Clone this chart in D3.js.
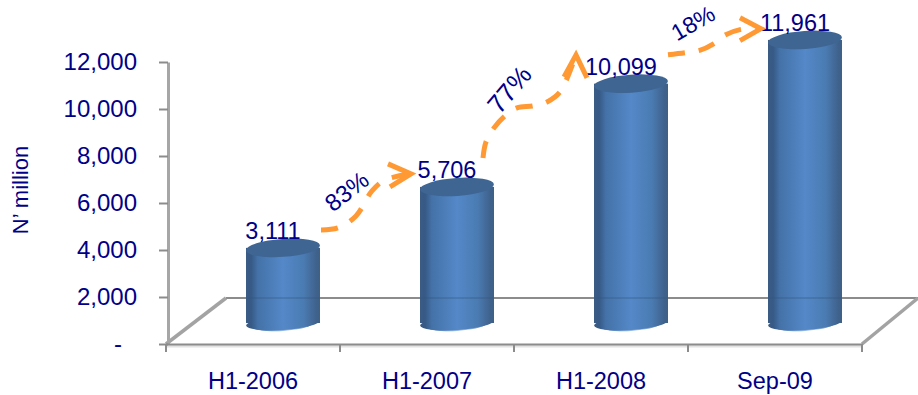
<!DOCTYPE html>
<html>
<head>
<meta charset="utf-8">
<script src="https://cdn.jsdelivr.net/npm/d3@7"></script>
<style>
  html, body { margin: 0; padding: 0; background: #fff; }
  svg { display: block; }
  text { font-family: "Liberation Sans", Arial, sans-serif; fill: #000088; }
</style>
</head>
<body>
<div id="chart"></div>
<script>
const periods = ["H1-2006", "H1-2007", "H1-2008", "Sep-09"];
const values = [3111, 5706, 10099, 11961];
const growthLabels = ["83%", "77%", "18%"];
const yTicks = [0, 2000, 4000, 6000, 8000, 10000, 12000];
const yTitle = "N\u2019 million";

const W = 918, H = 395;
const fontSize = 23.5;
const navy = "#000088", orange = "#ff9933", axisGrey = "#a6a6a6", floorGrey = "#8c8c8c";

const svg = d3.select("#chart").append("svg").attr("width", W).attr("height", H);

const x = d3.scaleBand().domain(periods).range([166, 862]).paddingInner(0).paddingOuter(0);
const y = d3.scaleLinear().domain([0, 12000]).range([344, 62]);

// Isometric floor depth and the offset of the bars within it
const depthX = 58, depthY = 46;
const barDx = 30, barTopDy = -23, barBaseDy = -21;
const barW = 74, capRy = 9, tilt = -4;
const cx = p => x(p) + x.bandwidth() / 2 + barDx;

// Cylinder body shading
const defs = svg.append("defs");
const grad = defs.append("linearGradient").attr("id", "body").attr("x1", 0).attr("x2", 1).attr("y1", 0).attr("y2", 0);
[[0, "#3a5b84"], [0.07, "#365a86"], [0.16, "#4472a8"], [0.5, "#5488c8"], [0.78, "#4a7bb2"], [0.95, "#3f628c"], [1, "#3d5f88"]]
  .forEach(([o, c]) => grad.append("stop").attr("offset", o).attr("stop-color", c));
const rim = defs.append("linearGradient").attr("id", "rim").attr("x1", 0).attr("x2", 1).attr("y1", 0).attr("y2", 0);
[[0, "#4f7fb8"], [0.45, "#8db2de"], [0.6, "#b5cdea"], [1, "#4f7fb8"]]
  .forEach(([o, c]) => rim.append("stop").attr("offset", o).attr("stop-color", c));

// Floor: back edge, side edges and front edge
const [x0, x1] = x.range();
const floor = svg.append("g").attr("fill", "none");
floor.append("path")
  .attr("d", d3.line()([[x0 + depthX + 2, y(0) - depthY], [W, y(0) - depthY]]))
  .attr("stroke", floorGrey).attr("stroke-width", 2);
[[x0, x0 + depthX + 2], [x1, W]].forEach(([a, b]) => {
  floor.append("path")
    .attr("d", d3.line()([[a, y(0)], [b, y(0) - depthY]]))
    .attr("stroke", "#a3a3a3").attr("stroke-width", 3.5);
});
floor.append("line").attr("x1", x0).attr("x2", x1).attr("y1", y(0) + 2).attr("y2", y(0) + 2)
  .attr("stroke", "#e2e2e2").attr("stroke-width", 3);

// Value axis
const yAxis = svg.append("g").attr("transform", `translate(${x0 + 2},0)`)
  .call(d3.axisLeft(y).tickValues(yTicks).tickSize(9).tickSizeOuter(0).tickPadding(22)
    .tickFormat(d => d === 0 ? "-" : d3.format(",")(d)));
yAxis.select(".domain").attr("stroke", axisGrey).attr("stroke-width", 3);
yAxis.selectAll(".tick line").attr("stroke", "#8c8c8c").attr("stroke-width", 2);
yAxis.selectAll("text").attr("font-size", 24).attr("fill", navy)
  .attr("font-family", '"Liberation Sans", Arial, sans-serif');
yAxis.selectAll(".tick").filter(d => d === 0).select("text").attr("dx", -15);

// Category axis
const xAxis = svg.append("g").attr("transform", `translate(0,${y(0)})`)
  .call(d3.axisBottom(x).tickSize(0).tickPadding(28));
xAxis.select(".domain").attr("stroke", floorGrey).attr("stroke-width", 2);
xAxis.selectAll("text").attr("font-size", fontSize).attr("fill", navy)
  .attr("font-family", '"Liberation Sans", Arial, sans-serif');
xAxis.selectAll(".edge").data(d3.range(periods.length + 1)).join("line").attr("class", "edge")
  .attr("x1", i => x0 + i * x.step()).attr("x2", i => x0 + i * x.step())
  .attr("y1", 0).attr("y2", 8).attr("stroke", "#8c8c8c").attr("stroke-width", 2);

// Axis title
svg.append("text")
  .attr("transform", `translate(28,190) rotate(-90)`)
  .attr("text-anchor", "middle").attr("font-size", 22).text(yTitle);

// Cylinders
const rows = periods.map((p, i) => ({ p, v: values[i] }));
const bars = svg.append("g").selectAll("g").data(rows).join("g");
bars.append("ellipse")
  .attr("cx", d => cx(d.p)).attr("cy", y(0) + barBaseDy + 1)
  .attr("rx", barW / 2 - 6).attr("ry", capRy - 2)
  .attr("transform", d => `rotate(${tilt},${cx(d.p)},${y(0) + barBaseDy})`)
  .attr("fill", "url(#rim)");
bars.append("ellipse")
  .attr("cx", d => cx(d.p)).attr("cy", y(0) + barBaseDy)
  .attr("rx", barW / 2).attr("ry", capRy - 2)
  .attr("transform", d => `rotate(${tilt},${cx(d.p)},${y(0) + barBaseDy})`)
  .attr("fill", "url(#body)");
bars.append("rect")
  .attr("x", d => cx(d.p) - barW / 2).attr("width", barW)
  .attr("y", d => y(d.v) + barTopDy)
  .attr("height", d => y(0) + barBaseDy - y(d.v) - barTopDy)
  .attr("fill", "url(#body)");
bars.append("ellipse")
  .attr("cx", d => cx(d.p)).attr("cy", d => y(d.v) + barTopDy)
  .attr("rx", barW / 2).attr("ry", capRy)
  .attr("transform", d => `rotate(${tilt},${cx(d.p)},${y(d.v) + barTopDy})`)
  .attr("fill", "#3f6592");
// Back floor line faintly visible through the cylinders
bars.append("line")
  .attr("x1", d => cx(d.p) - barW / 2).attr("x2", d => cx(d.p) + barW / 2)
  .attr("y1", y(0) - depthY).attr("y2", y(0) - depthY)
  .attr("stroke", "#34567f").attr("stroke-width", 1).attr("opacity", 0.6);

// Value labels sit over the cylinder caps
svg.append("g").selectAll("text").data(rows).join("text")
  .attr("x", d => cx(d.p) - 10).attr("y", d => y(d.v) + barTopDy - 8.5)
  .attr("text-anchor", "middle").attr("font-size", fontSize)
  .text(d => d3.format(",")(d.v));

// Growth arrows leave each cylinder cap; waypoints are offsets from that cap
const arrowShapes = [
  { way: [[38, -18], [55, -20], [73, -32], [89, -57], [102, -68], [128, -74]],
    headA: [-23, -10], headB: [-21, 13], text: [65, -55], rot: -38, size: 24 },
  { way: [[26, -29], [29, -45], [37, -59], [48, -71], [60, -79], [76, -81], [90, -85], [103, -95], [119, -132]],
    headA: [-12, 22], headB: [11, 23], text: [54, -96], rot: -50, size: 26 },
  { way: [[37, -29], [54, -31], [68, -33], [83, -40], [93, -48], [109, -54], [130, -55]],
    headA: [-21, -11], headB: [-21, 12], text: [63, -59], rot: -30, size: 23 }
];
const curve = d3.line().curve(d3.curveCatmullRom);
const arrows = svg.append("g");
arrowShapes.forEach((s, i) => {
  const ax = cx(periods[i]), ay = y(values[i]) + barTopDy;
  const at = o => [ax + o[0], ay + o[1]];
  const pts = s.way.map(at);
  const tip = pts[pts.length - 1];
  arrows.append("path")
    .attr("d", curve(pts))
    .attr("fill", "none").attr("stroke", orange).attr("stroke-width", 5)
    .attr("stroke-dasharray", "17 14");
  arrows.append("path")
    .attr("d", d3.line()([[tip[0] + s.headA[0], tip[1] + s.headA[1]], tip, [tip[0] + s.headB[0], tip[1] + s.headB[1]]]))
    .attr("fill", "none").attr("stroke", orange).attr("stroke-width", 5);
  const t = at(s.text);
  arrows.append("text")
    .attr("transform", `translate(${t[0]},${t[1]}) rotate(${s.rot})`)
    .attr("text-anchor", "middle").attr("dominant-baseline", "middle")
    .attr("font-size", s.size).text(growthLabels[i]);
});
</script>
</body>
</html>
